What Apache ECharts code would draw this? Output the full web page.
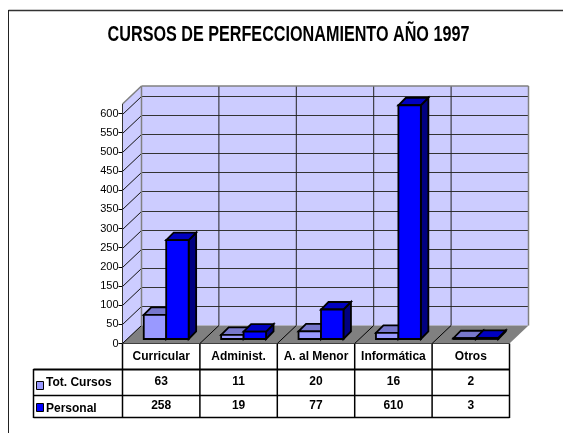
<!DOCTYPE html>
<html><head><meta charset="utf-8">
<style>html,body{margin:0;padding:0;background:#fff}#c{width:563px;height:433px}</style>
<script src="https://cdn.jsdelivr.net/npm/echarts@6/dist/echarts.min.js"></script>
</head><body><div id="c"></div>
<script>
const titleText = 'CURSOS DE PERFECCIONAMIENTO AÑO 1997';
const categories = ['Curricular','Administ.','A. al Menor','Informática','Otros'];
const totCursos = [63,11,20,16,2];
const personal = [258,19,77,610,3];
const yTicks = [0,50,100,150,200,250,300,350,400,450,500,550,600];
const yMax = 625;

const FONT = '"Liberation Sans", Arial, sans-serif';
const DX = 19, DY = 18;        // wall depth
const BX = 5, BY = 4.5;        // bar set-back from the front edge
const BD = 7.5;                // bar depth
const ROW1 = 382, ROW2 = 406;  // table row text centres
const L = 122.5, B = 343.5, R = 509.5;

const chart = echarts.init(document.getElementById('c'));
const line = (x1,y1,x2,y2,stroke,lw) => ({type:'line',shape:{x1,y1,x2,y2},style:{stroke,lineWidth:lw,fill:null},silent:true});
const poly = (points,fill,stroke,lw) => ({type:'polygon',shape:{points},style:{fill,stroke:stroke||null,lineWidth:lw||0,lineJoin:'miter'},silent:true});

function renderWalls(p, api){
  const left = api.coord([0,0])[0] - api.size([1,0])[0]/2;
  const band = api.size([1,0])[0];
  const right = left + band*categories.length;
  const y0 = api.coord([0,0])[1], yT = api.coord([0,yMax])[1];
  const ch = [
    poly([[left,y0],[left+DX,y0-DY],[left+DX,yT-DY],[left,yT]],'#CCCCFF'),
    poly([[left+DX,y0-DY],[right+DX,y0-DY],[right+DX,yT-DY],[left+DX,yT-DY]],'#CCCCFF'),
    poly([[left,y0],[right,y0],[right+DX,y0-DY],[left+DX,y0-DY]],'#808080')
  ];
  yTicks.forEach(v=>{
    const y = Math.round(api.coord([0,v])[1])+0.5;
    if(v>0){
      ch.push(line(left,y,left+DX,y-DY,'#111',1));
      ch.push(line(left+DX,y-DY,right+DX,y-DY,'#333',1));
    }
  });
  for(let i=0;i<=categories.length;i++){
    const x = left+band*i;
    if(i>0 && i<categories.length) ch.push(line(x+DX,yT-DY,x+DX,y0-DY,'#222',1));
    if(i<categories.length) ch.push(line(x,y0,x+DX,y0-DY,'#000',1));
  }
  ch.push(line(left,yT,left+DX,yT-DY,'#808080',1.5));
  ch.push(line(left+DX,yT-DY,right+DX,yT-DY,'#808080',1.5));
  ch.push(line(right+DX,yT-DY,right+DX,y0-DY,'#808080',1.5));
  ch.push(line(left+DX,yT-DY,left+DX,y0-DY,'#808080',1.5));
  ch.push(line(left,yT,left,y0,'#333',1));
  return {type:'group',children:ch};
}

function bar3d(which, front, top, side, rowY){
  return function(p, api){
    const i = api.value(0), v = api.value(1);
    const c = api.coord([i,v]), z = api.coord([i,0]);
    const band = api.size([1,0])[0], w = band*0.29;
    const xL = c[0] + BX + (which===0 ? -w : 0), xR = xL + w;
    const yB = z[1]-BY, yT = c[1]-BY;
    const S='#000', LW=1.8;
    return {type:'group',children:[
      poly([[xR,yB],[xR+BD,yB-BD],[xR+BD,yT-BD],[xR,yT]],side,S,LW),
      poly([[xL,yT],[xR,yT],[xR+BD,yT-BD],[xL+BD,yT-BD]],top,S,LW),
      poly([[xL,yB],[xR,yB],[xR,yT],[xL,yT]],front,S,LW),
      {type:'text',silent:true,style:{text:String(v),x:z[0],y:rowY,align:'center',verticalAlign:'middle',font:'bold 12px '+FONT,fill:'#000'}}
    ]};
  };
}

const tableLines = [];
[369.5,395.5,417.5].forEach(y=>tableLines.push({type:'line',shape:{x1:33.5,y1:y,x2:R,y2:y},style:{stroke:'#000',lineWidth:y<370?2:1.5}}));
tableLines.push({type:'line',shape:{x1:L,y1:B,x2:R,y2:B},style:{stroke:'#000',lineWidth:1}});
tableLines.push({type:'line',shape:{x1:33.5,y1:369,x2:33.5,y2:418},style:{stroke:'#000',lineWidth:1.5}});
for(let i=0;i<=categories.length;i++){
  const x = L+(R-L)/categories.length*i;
  tableLines.push({type:'line',shape:{x1:x,y1:B,x2:x,y2:418},style:{stroke:'#000',lineWidth:1.5}});
}

chart.setOption({
  animation:false,
  backgroundColor:'#fff',
  grid:{left:L,top:104,width:R-L,height:B-104,containLabel:false},
  xAxis:{type:'category',data:categories,
    axisLine:{show:false},axisTick:{show:false},
    axisLabel:{interval:0,margin:7,fontFamily:FONT,fontWeight:'bold',fontSize:12,color:'#000'}},
  yAxis:{type:'value',min:0,max:yMax,interval:50,
    splitLine:{show:false},
    axisLine:{show:false},
    axisTick:{show:true,length:4,lineStyle:{color:'#000'},customValues:yTicks},
    axisLabel:{margin:4,fontFamily:FONT,fontSize:11,color:'#000',customValues:yTicks}},
  series:[
    {type:'custom',name:'walls',coordinateSystem:'cartesian2d',data:[[0,0]],renderItem:renderWalls,z:1,silent:true},
    {type:'custom',name:'Tot. Cursos',coordinateSystem:'cartesian2d',encode:{x:0,y:1},
      data:totCursos.map((v,i)=>[i,v]),renderItem:bar3d(0,'#9999FF','#7777CC','#4D4D80',ROW1),z:2},
    {type:'custom',name:'Personal',coordinateSystem:'cartesian2d',encode:{x:0,y:1},
      data:personal.map((v,i)=>[i,v]),renderItem:bar3d(1,'#0000FF','#0000C0','#000080',ROW2),z:3}
  ],
  graphic:[
    {type:'line',shape:{x1:8.5,y1:10.5,x2:563,y2:10.5},style:{stroke:'#333',lineWidth:1.5}},
    {type:'line',shape:{x1:8.5,y1:10,x2:8.5,y2:433},style:{stroke:'#222',lineWidth:1}},
    {type:'text',x:288.5,y:35,scaleX:0.735,originX:0,originY:0,
      style:{text:titleText,align:'center',verticalAlign:'middle',font:'bold 22px '+FONT,fill:'#000'}},
    ...tableLines,
    {type:'rect',shape:{x:36.5,y:381.5,width:7,height:8},style:{fill:'#9999FF',stroke:'#000',lineWidth:1}},
    {type:'rect',shape:{x:36.5,y:403.5,width:7,height:8},style:{fill:'#0000FF',stroke:'#000',lineWidth:1}},
    {type:'text',x:46,y:ROW1+1,style:{text:'Tot. Cursos',align:'left',verticalAlign:'middle',font:'bold 12px '+FONT,fill:'#000'}},
    {type:'text',x:46,y:ROW2+3,style:{text:'Personal',align:'left',verticalAlign:'middle',font:'bold 12px '+FONT,fill:'#000'}}
  ]
});
</script></body></html>
